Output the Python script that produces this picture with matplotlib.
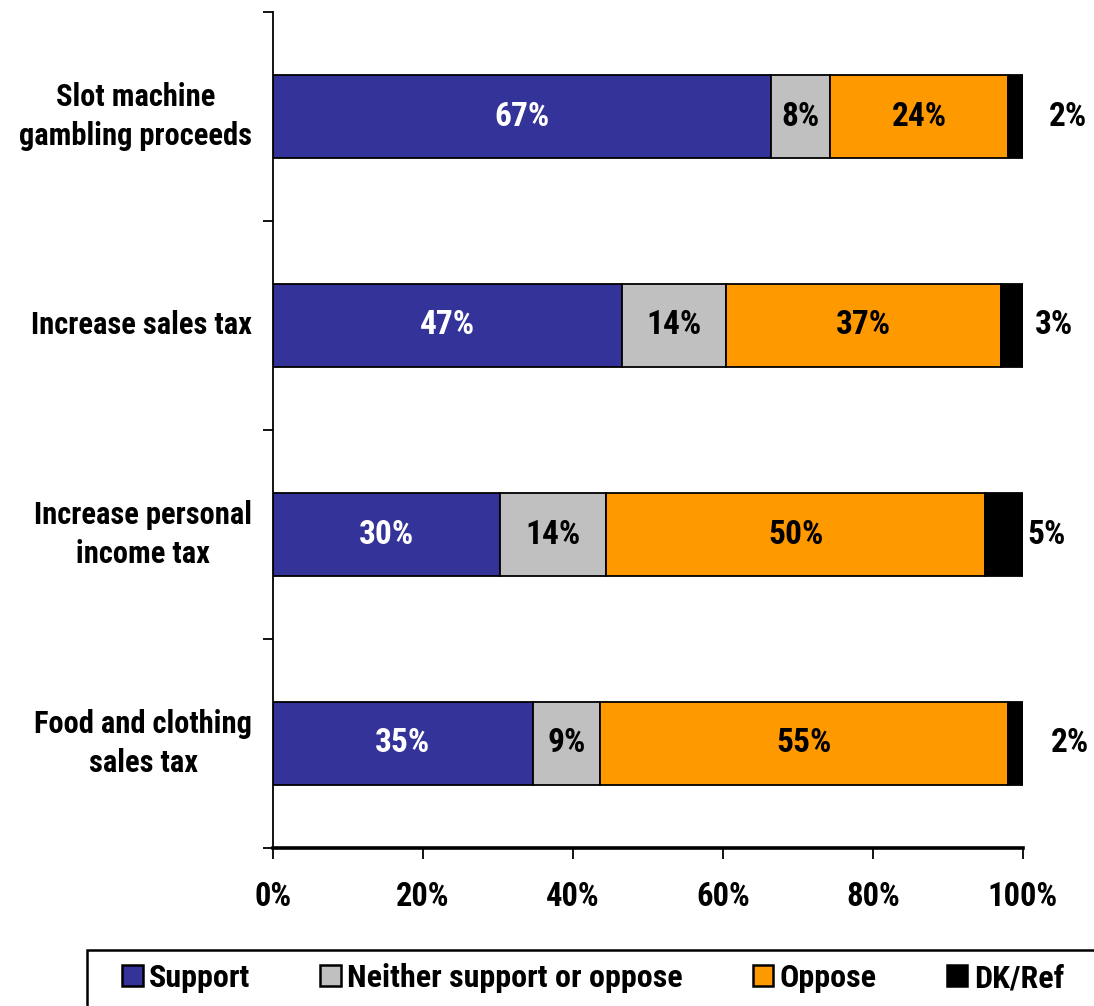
import matplotlib
matplotlib.use("Agg")
import matplotlib.pyplot as plt
from matplotlib.patches import Patch, Rectangle
from matplotlib import font_manager

# Survey results (percent of respondents)
categories = ["Slot machine\ngambling proceeds", "Increase sales tax",
              "Increase personal\nincome tax", "Food and clothing\nsales tax"]
series_names = ["Support", "Neither support or oppose", "Oppose", "DK/Ref"]
support = [67, 47, 30, 35]
neither = [8, 14, 14, 9]
oppose = [24, 37, 50, 55]
dk_ref = [2, 3, 5, 2]
x_tick_labels = ["0%", "20%", "40%", "60%", "80%", "100%"]

colors = ["#333399", "#C0C0C0", "#FF9900", "#000000"]
text_colors = ["white", "black", "black", None]
# horizontal placement of the DK/Ref labels to the right of each bar (% units)
dk_label_x = [106.0, 104.1, 103.1, 106.3]

available = {f.name for f in font_manager.fontManager.ttflist}
family = [f for f in ["Roboto Condensed", "PT Sans Narrow", "Liberation Sans", "DejaVu Sans"]
          if f in available]
plt.rcParams["font.family"] = family
plt.rcParams["font.weight"] = "bold"

W, H = 1094, 1006
fig = plt.figure(figsize=(W / 100, H / 100), dpi=100)
ax = fig.add_axes([273 / W, 1 - 848 / H, 750 / W, 836 / H])

rows = list(zip(support, neither, oppose, dk_ref))
ypos = list(range(len(categories)))
bar_h = 0.4

for i, vals in enumerate(rows):
    total = sum(vals)
    left = 0.0
    for j, v in enumerate(vals):
        w = v / total * 100
        ax.barh(ypos[i], w, left=left, height=bar_h, color=colors[j],
                edgecolor="black", linewidth=1.3, zorder=2)
        if text_colors[j] is not None:
            ax.text(left + w / 2, ypos[i], f"{v}%", ha="center", va="center",
                    color=text_colors[j], fontsize=24, fontweight="bold", zorder=3)
        left += w
    ax.text(dk_label_x[i], ypos[i], f"{vals[3]}%", ha="center", va="center",
            color="black", fontsize=24, fontweight="bold", clip_on=False)

ax.set_xlim(0, 100)
ax.set_ylim(len(categories) - 0.5, -0.5)

ax.set_xticks([0, 20, 40, 60, 80, 100])
ax.set_xticklabels(x_tick_labels, fontsize=23.5, fontweight="bold")
ax.set_yticks([k - 0.5 for k in range(len(categories) + 1)])
ax.set_yticklabels([])
ax.tick_params(axis="x", direction="out", length=8, width=1.3, pad=16)
ax.tick_params(axis="y", direction="out", length=7, width=1.3)

for i, name in enumerate(categories):
    ax.text(-0.028, ypos[i], name, transform=ax.get_yaxis_transform(),
            ha="right", va="center", multialignment="center",
            fontsize=22, fontweight="bold", linespacing=1.35)

for s in ["top", "right"]:
    ax.spines[s].set_visible(False)
ax.spines["left"].set_linewidth(1.3)
ax.spines["bottom"].set_linewidth(2.6)

# legend box running off the bottom-right corner of the figure
fig.patches.append(Rectangle((87 / W, -0.02), 1.05 - 87 / W, 0.02 + (1 - 950 / H),
                             transform=fig.transFigure, facecolor="white",
                             edgecolor="black", linewidth=1.8, zorder=1))

handles = [Patch(facecolor=c, edgecolor="black", linewidth=1.8) for c in colors]
x0, x1 = 122 / W, 1064 / W
leg = fig.legend(handles, series_names, loc="center left",
                 bbox_to_anchor=(x0, 1 - 978 / H, x1 - x0, 0.0),
                 mode="expand", ncol=4, frameon=False,
                 handlelength=0.65, handleheight=0.65, handletextpad=0.2,
                 borderpad=0.0, borderaxespad=0.0,
                 prop={"weight": "bold", "size": 23})
leg.set_zorder(2)

fig.savefig("out.png", dpi=100)
